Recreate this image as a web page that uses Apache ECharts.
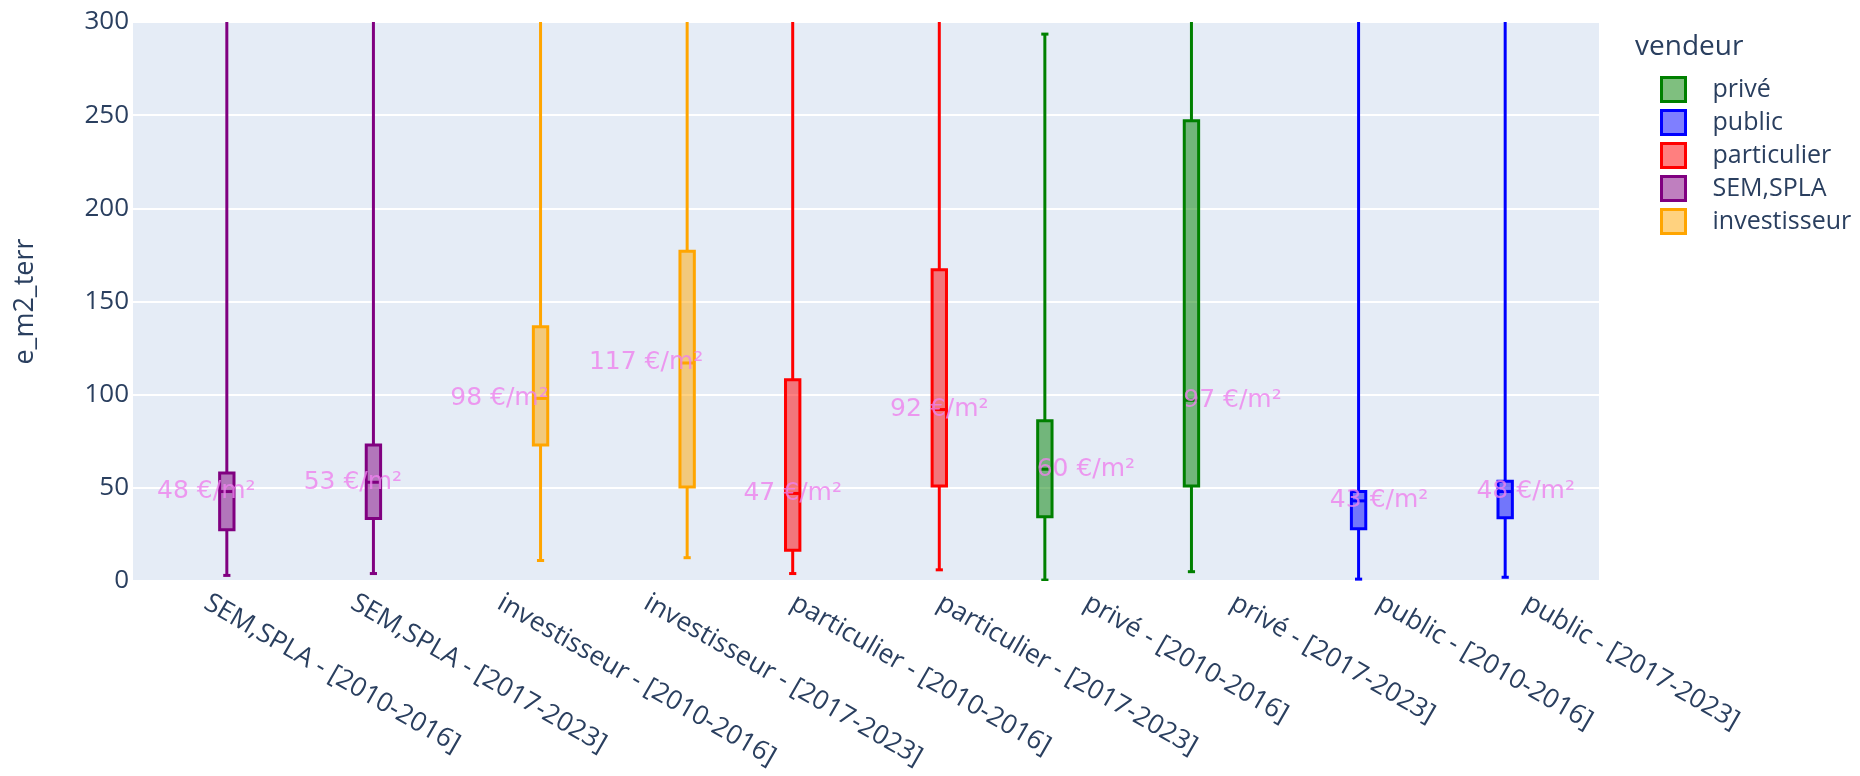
<!DOCTYPE html>
<html>
<head>
<meta charset="utf-8">
<script src="https://cdn.jsdelivr.net/npm/echarts@6/dist/echarts.min.js"></script>
<style>
  html, body { margin: 0; padding: 0; background: #fff; }
  #chart { width: 1860px; height: 776px; }
</style>
</head>
<body>
<div id="chart"></div>
<script>
// categories on the x axis (vendeur - période)
const categories = [
    'SEM,SPLA - [2010-2016]', 'SEM,SPLA - [2017-2023]',
    'investisseur - [2010-2016]', 'investisseur - [2017-2023]',
    'particulier - [2010-2016]', 'particulier - [2017-2023]',
    'privé - [2010-2016]', 'privé - [2017-2023]',
    'public - [2010-2016]', 'public - [2017-2023]'
];
// legend / trace order
const vendeurs = ['privé', 'public', 'particulier', 'SEM,SPLA', 'investisseur'];
const vendeurColors = ['0,128,0', '0,0,255', '255,0,0', '128,0,128', '255,165,0'];

// box stats per category (e_m2_terr)
const minVals    = [3, 4, 11, 12.5, 4, 6, 0.5, 5, 1, 2];
const q1Vals     = [27.5, 33.5, 73, 50.5, 16.5, 51, 34.5, 51, 28, 34];
const medianVals = [48, 53, 98, 117, 47, 92, 60, 97, 43, 48];
const q3Vals     = [58, 73, 136.5, 177, 108, 167, 86, 247, 48, 53.5];
const maxVals    = [1070, 900, 1650, 1500, 3000, 2500, 293.5, 1200, 1800, 1400];

const yTicks = { min: 0, max: 300, interval: 50 };

const textColor = '#2a3f5f';
const font = 'Open Sans';

const chart = echarts.init(document.getElementById('chart'));

function renderBox(params, api) {
    const cat = api.value(0);
    const n = vendeurs.length;
    const band = api.size([1, 0])[0];
    const slot = band * 0.7 / n;
    const cx = api.coord([cat, 0])[0] + (params.seriesIndex - (n - 1) / 2) * slot;
    const hw = slot * 0.7 / 2;
    const y = function (i) { return api.coord([cat, api.value(i)])[1]; };
    const yMin = y(1), yQ1 = y(2), yMed = y(3), yQ3 = y(4), yMax = y(5);
    const rgb = vendeurColors[params.seriesIndex];
    const line = { stroke: 'rgb(' + rgb + ')', lineWidth: 3, fill: null };
    return {
        type: 'group',
        children: [
            { type: 'line', shape: { x1: cx, y1: yQ1, x2: cx, y2: yMin }, style: line },
            { type: 'line', shape: { x1: cx, y1: yQ3, x2: cx, y2: yMax }, style: line },
            { type: 'line', shape: { x1: cx - hw / 2, y1: yMin, x2: cx + hw / 2, y2: yMin }, style: line },
            { type: 'line', shape: { x1: cx - hw / 2, y1: yMax, x2: cx + hw / 2, y2: yMax }, style: line },
            {
                type: 'rect',
                shape: { x: cx - hw, y: yQ3, width: 2 * hw, height: yQ1 - yQ3 },
                style: { fill: 'rgba(' + rgb + ',0.5)', stroke: 'rgb(' + rgb + ')', lineWidth: 3 }
            },
            { type: 'line', shape: { x1: cx - hw, y1: yMed, x2: cx + hw, y2: yMed }, style: line }
        ]
    };
}

const boxSeries = vendeurs.map(function (v) {
    const data = [];
    categories.forEach(function (c, i) {
        if (c.split(' - ')[0] === v) {
            data.push([i, minVals[i], q1Vals[i], medianVals[i], q3Vals[i], maxVals[i]]);
        }
    });
    const rgb = vendeurColors[vendeurs.indexOf(v)];
    return {
        name: v,
        type: 'custom',
        clip: true,
        renderItem: renderBox,
        itemStyle: { color: 'rgb(' + rgb + ')' },
        encode: { x: 0, y: [1, 2, 3, 4, 5] },
        data: data
    };
});

// "xx €/m²" notes at each median
const labelSeries = {
    type: 'scatter',
    symbolSize: 0,
    silent: true,
    z: 5,
    data: medianVals.map(function (m, i) { return [i, m]; }),
    label: {
        show: true,
        position: 'inside',
        formatter: function (p) { return p.value[1] + ' €/m²'; },
        color: 'violet',
        fontFamily: 'DejaVu Sans',
        fontSize: 25
    }
};

chart.setOption({
    animation: false,
    backgroundColor: '#fff',
    title: {
        text: 'vendeur',
        left: 1630,
        top: 28,
        textStyle: { color: textColor, fontFamily: font, fontSize: 28, fontWeight: 'normal' }
    },
    legend: {
        orient: 'vertical',
        left: 1655,
        top: 71,
        itemWidth: 24,
        itemHeight: 24,
        itemGap: 6,
        icon: 'rect',
        textStyle: { color: textColor, fontFamily: font, fontSize: 25, lineHeight: 24, padding: [0, 0, 0, 22] },
        data: vendeurs.map(function (v, i) {
            return {
                name: v,
                itemStyle: {
                    color: 'rgba(' + vendeurColors[i] + ',0.5)',
                    borderColor: 'rgb(' + vendeurColors[i] + ')',
                    borderWidth: 3
                }
            };
        })
    },
    grid: {
        left: 133,
        right: 261,
        top: 22,
        bottom: 195,
        show: true,
        backgroundColor: '#E5ECF6',
        borderWidth: 0
    },
    xAxis: {
        type: 'category',
        data: categories,
        axisLine: { show: false },
        axisTick: { show: false },
        splitLine: { show: false },
        axisLabel: {
            rotate: -30,
            margin: 20,
            interval: 0,
            color: textColor,
            fontFamily: font,
            fontSize: 26.5
        }
    },
    yAxis: {
        type: 'value',
        min: yTicks.min,
        max: yTicks.max,
        interval: yTicks.interval,
        name: 'e_m2_terr',
        nameLocation: 'middle',
        nameGap: 94,
        nameTextStyle: { color: textColor, fontFamily: font, fontSize: 27 },
        axisLine: { show: false },
        axisTick: { show: false },
        splitLine: { lineStyle: { color: '#fff', width: 2 } },
        axisLabel: { color: textColor, fontFamily: font, fontSize: 26, margin: 4 }
    },
    series: boxSeries.concat([labelSeries])
});
</script>
</body>
</html>
